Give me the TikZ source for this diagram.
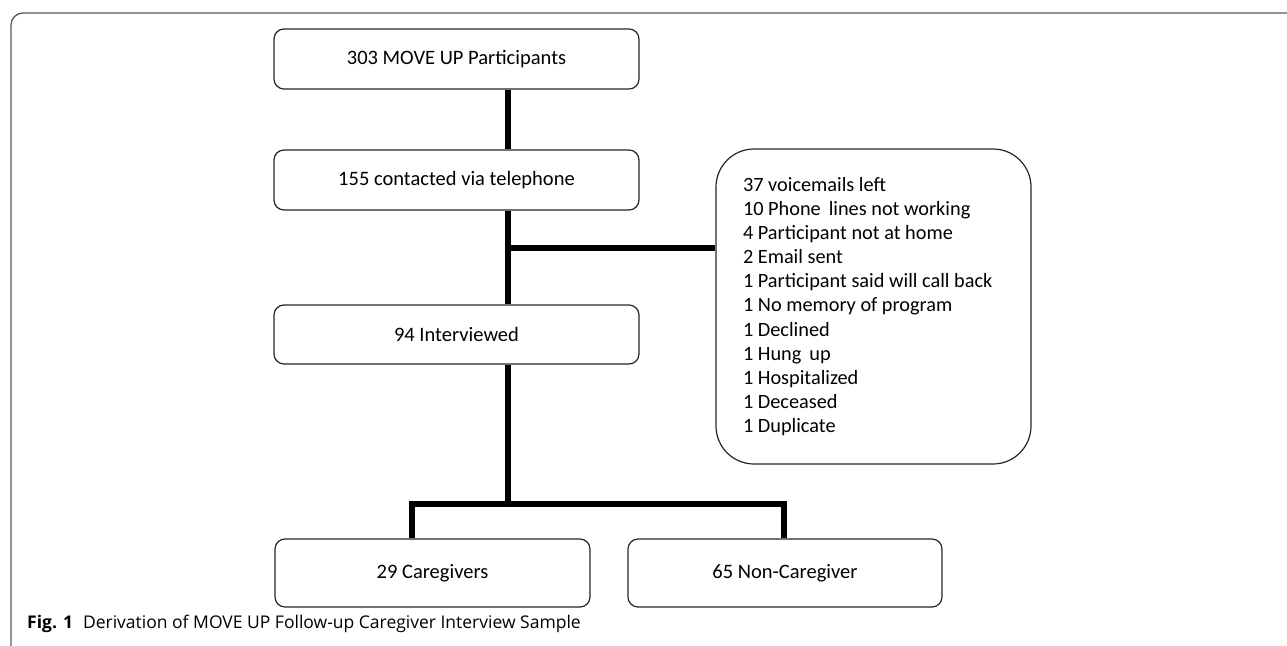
\documentclass[tikz,border=0pt]{standalone}
\usepackage{fontspec}
\setmainfont{Carlito}
\newfontfamily\capfont{Open Sans}
\tikzset{
  flowbox/.style={draw=black!85, line width=1.2pt, rounded corners=10pt, fill=white,
    inner sep=0pt, align=center, font=\fontsize{20.5}{24}\selectfont},
  notebox/.style={draw=black!85, line width=1.2pt, rounded corners=38pt, fill=white,
    inner sep=0pt, align=left, font=\fontsize{20.3}{24.1}\selectfont},
  conn/.style={line width=6.3pt, black},
  frameline/.style={draw=black!65, line width=1.3pt, rounded corners=12pt},
}
\begin{document}
\begin{tikzpicture}[x=1pt,y=-1pt]
\useasboundingbox (0,0) rectangle (1287,645);
\draw[frameline] (11,660) -- (11,13) -- (1300,13);
\node[flowbox, minimum width=365pt, minimum height=60pt] (b1) at (456.5,59) {303 MOVE UP Participants};
\node[flowbox, minimum width=365pt, minimum height=60pt] (b2) at (456.5,180) {155 contacted via telephone};
\node[flowbox, minimum width=365pt, minimum height=59pt] (b3) at (456.5,334.5) {94 Interviewed};
\node[flowbox, minimum width=315pt, minimum height=68pt] (b4) at (432.5,573) {29 Caregivers};
\node[flowbox, minimum width=314pt, minimum height=68pt] (b5) at (785,573) {65 Non-Caregiver};
\node[notebox, minimum width=315pt, minimum height=315pt] (note) at (873.5,306.5) {\parbox[c]{261pt}{37 voicemails left\\
10 Phone\, lines not working\\
4 Participant not at home\\
2 Email sent\\
1 Participant said will call back\\
1 No memory of program\\
1 Declined\\
1 Hung\, up\\
1 Hospitalized\\
1 Deceased\\
1 Duplicate}};
\coordinate (spine) at (508,0);
\coordinate (branch) at (508,248);
\coordinate (fork) at (508,504);
\coordinate (forkL) at (412,504);
\coordinate (forkR) at (784,504);
\draw[conn] (b1.south -| spine) -- (b2.north -| spine);
\draw[conn] (b2.south -| spine) -- (b3.north -| spine);
\draw[conn] (branch) -- (note.west |- branch);
\draw[conn] (b3.south -| spine) -- (fork);
\draw[conn] (forkL |- b4.north) -- (forkL) -- (forkR) -- (forkR |- b5.north);
\node[anchor=base west, inner sep=0pt, font=\capfont\fontsize{17.5}{20}\selectfont] (cap) at (27,628)
  {\textbf{Fig. 1}\hspace{10pt}Derivation of MOVE UP Follow-up Caregiver Interview Sample};
\end{tikzpicture}
\end{document}
